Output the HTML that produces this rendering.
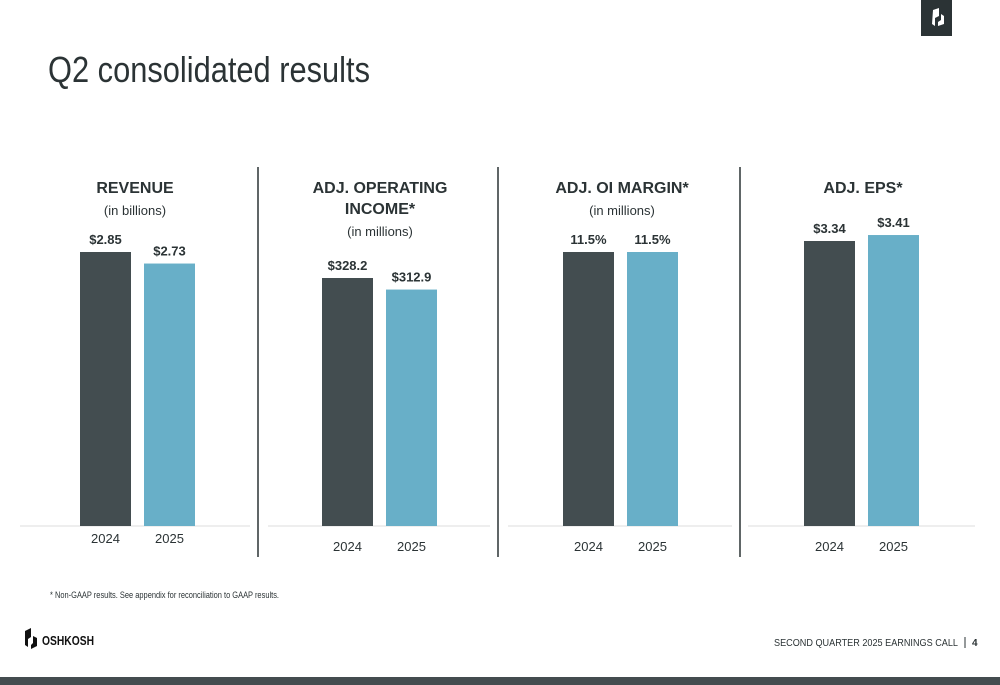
<!DOCTYPE html>
<html><head><meta charset="utf-8"><style>
html,body{margin:0;padding:0;background:#fff;}
svg{display:block;font-family:"Liberation Sans",sans-serif;}
</style></head><body>
<svg id="s" width="1000" height="685" viewBox="0 0 1000 685">
<rect x="921" y="0" width="31" height="36" fill="#2b3335"/>
<path d="M933 10 l6 -2 l0 8 l-4 2 l0 8 l-3 -2 z M941 14 l3 2 l0 8 l-6 2 l0 -4 l3 -2 z" fill="#fff"/>
<text x="48" y="82" font-size="36" fill="#2b3335" textLength="322" lengthAdjust="spacingAndGlyphs">Q2 consolidated results</text>
<g id="charts"></g>
<g stroke="#2b3335" stroke-width="1.5">
<line x1="258" y1="167" x2="258" y2="557"/><line x1="498" y1="167" x2="498" y2="557"/><line x1="740" y1="167" x2="740" y2="557"/>
</g>
<text x="50" y="598" font-size="9" fill="#2b3335" textLength="229" lengthAdjust="spacingAndGlyphs">* Non-GAAP results. See appendix for reconciliation to GAAP results.</text>
<path d="M25 631 l6 -3 l0 9 l-3 2 l0 8 l-3 -2 z M33 636 l4 2 l0 8 l-6 3 l0 -4 l2 -2 z" fill="#111"/>
<text x="42" y="645" font-size="13" font-weight="bold" fill="#111" textLength="52" lengthAdjust="spacingAndGlyphs">OSHKOSH</text>
<text x="958" y="646" font-size="10" fill="#2b3335" text-anchor="end" textLength="184" lengthAdjust="spacingAndGlyphs">SECOND QUARTER 2025 EARNINGS CALL</text>
<line x1="965" y1="637" x2="965" y2="648" stroke="#2b3335" stroke-width="1"/>
<text x="972" y="646" font-size="10" font-weight="bold" fill="#2b3335">4</text>
<rect x="0" y="677" width="1000" height="8" fill="#444c4f"/>
</svg>
<script>
const panelTitles=[["REVENUE"],["ADJ. OPERATING","INCOME*"],["ADJ. OI MARGIN*"],["ADJ. EPS*"]];
const panelUnits=["(in billions)","(in millions)","(in millions)",""];
const years=["2024","2025"];
const values2024=[2.85,328.2,11.5,3.34];
const values2025=[2.73,312.9,11.5,3.41];
const valueLabels2024=["$2.85","$328.2","11.5%","$3.34"];
const valueLabels2025=["$2.73","$312.9","11.5%","$3.41"];
const maxVals=[2.85,328.2,11.5,3.34];
const ns="http://www.w3.org/2000/svg";
const g=document.getElementById('charts');
const panels=[{x0:20,x1:250,b:80,cx:135,yl:538,ty:193,ph:274},{x0:268,x1:490,b:322,cx:380,yl:543,ty:193,ph:248},{x0:508,x1:732,b:563,cx:622,yl:543,ty:193,ph:274},{x0:748,x1:975,b:804,cx:863,yl:543,ty:193,ph:285}];
const base=526,bw=51,gap=64;
function el(t,a){const e=document.createElementNS(ns,t);for(const k in a)e.setAttribute(k,a[k]);g.appendChild(e);return e;}
panels.forEach((p,i)=>{
  const scale=p.ph/maxVals[i];
  const ax=el('line',{x1:p.x0,x2:p.x1,y1:base,y2:base,stroke:'#ddd','stroke-width':1});
  
  
  let ty=p.ty;
  panelTitles[i].forEach(line=>{
    const t=el('text',{x:p.cx,y:ty,'font-size':16,'font-weight':'bold',fill:'#2b3335','text-anchor':'middle'});
    t.textContent=line;
    
    
    ty+=21;
  });
  if(panelUnits[i]){
    const u=el('text',{x:p.cx,y:ty+1,'font-size':13,fill:'#2b3335','text-anchor':'middle'});
    u.textContent=panelUnits[i];
    
    
  }
  [values2024[i],values2025[i]].forEach((v,j)=>{
    const h=v*scale,x=p.b+j*gap;
    const r=el('rect',{x:x,y:base-h,width:bw,height:h,fill:j?'#68afc8':'#434d50'});
    
    
    const l=el('text',{x:x+bw/2,y:base-h-8,'font-size':13,'font-weight':'bold',fill:'#2b3335','text-anchor':'middle'});
    l.textContent=(j?valueLabels2025:valueLabels2024)[i];
    
    
    const yl=el('text',{x:x+bw/2,y:p.yl+(i?8:5),'font-size':13,fill:'#2b3335','text-anchor':'middle'});
    yl.textContent=years[j];
    
    
  });
});
</script>
</body></html>
